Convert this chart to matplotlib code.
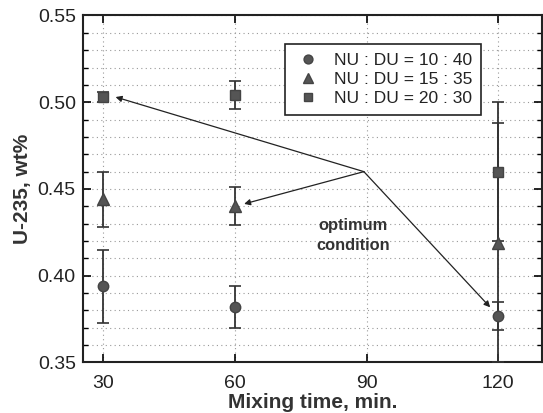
import matplotlib
matplotlib.use("Agg")
import matplotlib.pyplot as plt
from matplotlib.ticker import MultipleLocator
from matplotlib.lines import Line2D

# Data
mixing_time = [30, 60, 120]
labels = ["NU : DU = 10 : 40", "NU : DU = 15 : 35", "NU : DU = 20 : 30"]
nu10_vals = [0.394, 0.382, 0.377]
nu10_err = [0.021, 0.012, 0.008]
nu15_vals = [0.444, 0.440, 0.419]
nu15_err = [0.016, 0.011, 0.069]
nu20_vals = [0.503, 0.504, 0.460]
nu20_err = [0.003, 0.008, 0.040]
x_ticks = [30, 60, 90, 120]
y_ticks = [0.35, 0.40, 0.45, 0.50, 0.55]

# Annotation
arrow_origin = (89.4, 0.460)
arrow_targets = [(32.8, 0.503), (62.1, 0.4414), (118.2, 0.3818)]
annot_text = "optimum\ncondition"

plt.rcParams['font.family'] = ['Liberation Sans', 'DejaVu Sans']

fig = plt.figure(figsize=(5.43, 4.13), dpi=100)
ax = fig.add_axes([0.1523, 0.1223, 0.8458, 0.8402])

mcol = "#555555"
ecol = "#333333"
series = [(nu10_vals, nu10_err, "o", 7.5), (nu15_vals, nu15_err, "^", 9), (nu20_vals, nu20_err, "s", 7.3)]
handles = []
for (vals, errs, mk, ms), lab in zip(series, labels):
    ax.errorbar(mixing_time, vals, yerr=errs, fmt=mk, color=mcol, ms=ms, mec="#444444",
                ecolor=ecol, elinewidth=1.3, capsize=4, capthick=1.2, zorder=3)
    handles.append(Line2D([], [], marker=mk, ls="none", color=mcol, mec="#444444",
                          ms=ms * 0.85, label=lab))

ax.set_xlim(25.3, 130.0)
ax.set_ylim(0.35, 0.55)
ax.set_xticks(x_ticks)
ax.set_yticks(y_ticks)
ax.set_yticklabels([f"{v:.2f}" for v in y_ticks])
ax.yaxis.set_minor_locator(MultipleLocator(0.01))
ax.tick_params(axis='both', which='major', direction='in', length=6, width=1.2,
               labelsize=14, top=True, right=True, pad=5, labelcolor="#222222")
ax.tick_params(axis='x', which='major', pad=9)
ax.tick_params(axis='y', which='minor', direction='in', length=3.5, width=1, right=True)
ax.grid(True, which='major', axis='x', linestyle=(0, (1, 3)), color="#999999", lw=0.8)
ax.grid(True, which='both', axis='y', linestyle=(0, (1, 3)), color="#999999", lw=0.8)
for s in ax.spines.values():
    s.set_linewidth(1.5)
    s.set_color("#222222")

ax.set_xlabel("Mixing time, min.", fontsize=15, fontweight='bold', labelpad=1,
              color="#333333")
ax.set_ylabel("U-235, wt%", fontsize=15, fontweight='bold', labelpad=4,
              color="#333333")

for tgt in arrow_targets:
    ax.annotate("", xy=tgt, xytext=arrow_origin,
                arrowprops=dict(arrowstyle="-|>", color="#222222", lw=0.9,
                                mutation_scale=9, shrinkA=0, shrinkB=0))
ax.text(86.9, 0.4232, annot_text, ha='center', va='center', fontsize=11.8,
        fontweight='bold', color="#333333", linespacing=1.4)

leg = ax.legend(handles=handles, loc='upper left', bbox_to_anchor=(0.4415, 0.917),
                borderaxespad=0,
                fontsize=12.5, frameon=True, fancybox=False, edgecolor="#222222",
                handletextpad=0.7, handlelength=1.6, borderpad=0.5, labelspacing=0.22,
                framealpha=1)
leg.get_frame().set_linewidth(1.2)
for t in leg.get_texts():
    t.set_color("#222222")

fig.savefig("out.png", dpi=100)
